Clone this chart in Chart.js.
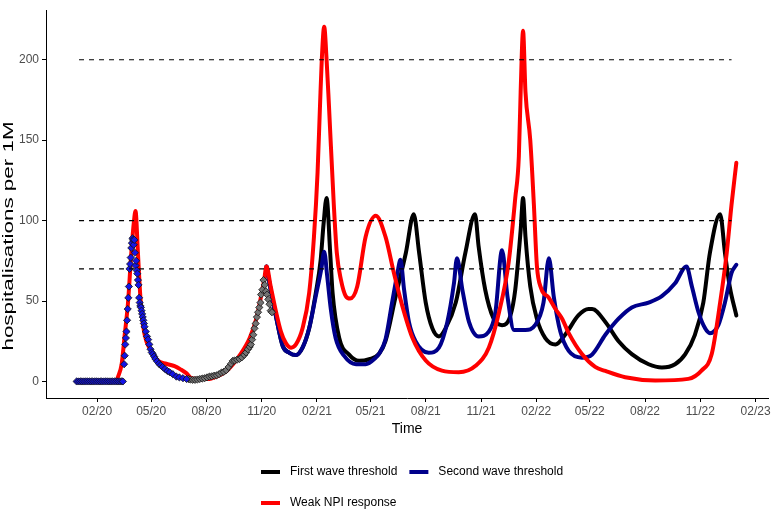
<!DOCTYPE html>
<html>
<head>
<meta charset="utf-8">
<script src="https://cdn.jsdelivr.net/npm/chart.js@4.4.1/dist/chart.umd.min.js"></script>
<style>
html, body { margin: 0; padding: 0; background: #fff; }
</style>
</head>
<body>
<canvas id="chart" width="773" height="510"></canvas>
<script>
// x values are days since 1 Jan 2020

const TICK_LABELS = ["02/20","05/20","08/20","11/20","02/21","05/21","08/21","11/21","02/22","05/22","08/22","11/22","02/23"];
const Y_TICKS = [0, 50, 100, 150, 200];
const THRESHOLDS = [70, 100, 200];
const THRESHOLD_SPAN = [1, 1087];

// observed hospitalisations, first wave (blue) and second wave (grey)
const FIRST_WAVE_DATA = [
  [-3,0],[0,0],[3,0],[6,0],[9,0],[12,0],[15,0],[18,0],[21,0],[24,0],[27,0],[30,0],[33,0],
  [36,0],[39,0],[42,0],[45,0],[48,0],[51,0],[54,0],[57,0],[60,0],[63,0],[66,0],[69,0],[72,0],[74,0],
  [76,10.7],[77,16],[78,23],[79,27],[80,31],[81,38],[82,45],[83,52],[84,59],[85,70],[86,73],
  [87,77],[88,83],[89,86],[90,89],[91,88],[92,85],[93,88],[94,80],[95,72],[96,75],[97,69],
  [98,67],[99,63],[100,60],[101,52],[102,49],[103,47],[104,46],[105,44],[106,42],[107,40],
  [108,38],[109,36],[110,34],[112,31],[114,28],[116,26],[118,23],[120,20],[122,18],[124,17],
  [126,15.5],[128,14],[131,12.5],[134,11],[137,10],[140,9],[144,7.7],[148,6.5],[152,5.7],
  [157,4.5],[163,3],[168,2.5],[174,2],[180,1.5]
];
const SECOND_WAVE_DATA = [
  [183,1.5],[186,1.2],[190,1],[194,1],[198,1.2],[202,1.5],[206,1.8],[210,2],[214,2.5],[218,3],
  [222,3.2],[226,3.6],[230,3.8],[234,4.5],[238,5.5],[242,6],[246,7],[250,9],[254,11],[257,12.8],
  [260,13],[264,13.5],[268,14],[272,15],[276,16.5],[279,18],[282,20],[285,21.5],[287,23],
  [289,26],[291,29],[293,33],[295,36],[297,40],[299,43],[301,46],[303,49],[304,54],[306,57],
  [308,63],[310,60],[312,56],[314,54],[316,51],[318,48],[320,44],[322,43]
];

// model runs
const WEAK_NPI = [
  [-3,0],[62,0],[66,3],[72,11],[77,29],[82.5,49],[88,80],[92.5,100],[95,106],[99,80],[103,53],
  [107.5,35],[113,25],[118,21],[124,17],[132,13],[146,11],[160,9.5],[170,7.5],[180,5],[188,2],
  [200,1.5],[215,1.5],[230,3],[245,6],[258,11],[268,16],[285,27],[296,39],[304,53],[309,63],
  [313,71.5],[320,59],[329,43],[337,31],[345,24],[354,21],[362,23],[373,33],[384,55],[392,90],
  [398,130],[402,171],[405,200],[409,220.5],[413,200],[417,171],[425,110],[430,80],[437,63],
  [445,53],[452,51.5],[464,59],[478,90],[495,103],[511,90],[525,67.5],[539,47],[556,27],
  [578,13],[605,6.7],[633,5.7],[661,9.7],[683,21],[700,43],[716,74],[727,114],[733,140],
  [736,180],[740,218],[744,180],[752,150],[758,110],[763,72],[770,58],[783,52],[794,45],
  [805,39],[816,30],[838,17],[860,9],[877,6.5],[910,2.6],[960,0.6],[1015,1.6],[1037,6.7],
  [1054,17],[1068,49],[1079,80],[1087,110],[1095,136]
];
const SECOND_THRESHOLD = [
  [313,71.5],[320,57],[329,40],[340,22],[351,17.8],[362,16.4],[373,21],[384,33],[395,53],
  [404,69.5],[409,80.7],[414,65.5],[420,45],[428,27],[442,16],[462,10.7],[478,10.7],[495,14.8],
  [500,17],[511,26],[522,49],[531,67.5],[536,75.6],[542,57],[550,37],[561,25],[583,17.8],
  [600,21],[614,37],[625,61],[630,76.6],[639,57],[650,37],[666,28],[683,31],[694,43],[705,81.6],
  [714,53],[725,32],[733,32],[744,32],[760,35],[774,49],[783,76.6],[791,53],[802,31],[816,19],
  [838,14.8],[855,16.8],[877,29],[899,39],[921,46],[949,49],[971,53],[993,61],[1012,71.5],
  [1021,59],[1032,43],[1043,33],[1051,30],[1065,35],[1076,49],[1087,67.5],[1095,72.5]
];
const FIRST_THRESHOLD = [
  [313,71.5],[320,57],[329,40],[340,22],[351,17.8],[362,16.4],[373,21],[384,33],[395,55],
  [403,75],[408,98],[413,114],[419,80],[423,55],[434,27],[450,16.8],[467,12.8],[484,13.8],
  [500,17],[511,25],[528,53],[545,80],[558,104],[567,80],[578,49],[589,33],[600,28],[611,33],
  [628,49],[644,80],[660,104],[666,84],[677,57],[691,39],[705,35],[719,41],[727,57],[736,94],
  [740,114],[744,90],[752,59],[763,39],[777,27],[794,23],[810,29],[832,41],[849,45],[855,45],
  [877,37],[899,25],[921,17],[949,10.7],[971,8.7],[993,10.7],[1010,17],[1026,29],[1040,49],
  [1051,80],[1068,104],[1076,80],[1084,59],[1095,41]
];

const DAY = 86400000;
const ORIGIN = Date.UTC(2020, 0, 1);
const TICK_DAYS = TICK_LABELS.map(function (l) {
  const mm = parseInt(l.slice(0, 2)), yy = 2000 + parseInt(l.slice(3));
  return Math.round((Date.UTC(yy, mm - 1, 1) - ORIGIN) / DAY);
});

const toXY = arr => arr.map(p => ({ x: p[0], y: p[1] }));

const FONT = "'Liberation Sans', Arial, sans-serif";
Chart.defaults.font.family = FONT;

function modelLine(label, rows, color) {
  return {
    label: label, data: toXY(rows), borderColor: color, backgroundColor: color,
    borderWidth: 4, pointRadius: 0, cubicInterpolationMode: "monotone",
    borderJoinStyle: "round", borderCapStyle: "round"
  };
}
function dataPoints(label, rows, fill) {
  return {
    label: label, data: toXY(rows), showLine: false, pointStyle: "rectRot",
    pointRadius: 3.6, backgroundColor: fill, borderColor: "#111", borderWidth: 0.8
  };
}

// first dataset is drawn on top
const datasets = THRESHOLDS.map(t => ({
  label: "threshold " + t,
  data: [{ x: THRESHOLD_SPAN[0], y: t }, { x: THRESHOLD_SPAN[1], y: t }],
  borderColor: "#000", borderWidth: 1.2, borderDash: [5, 5], pointRadius: 0
}));
datasets.push(dataPoints("First wave data", FIRST_WAVE_DATA, "#1414e6"));
datasets.push(dataPoints("Second wave data", SECOND_WAVE_DATA, "#737373"));
datasets.push(modelLine("Weak NPI response", WEAK_NPI, "#ff0000"));
datasets.push(modelLine("Second wave threshold", SECOND_THRESHOLD, "#00008b"));
datasets.push(modelLine("First wave threshold", FIRST_THRESHOLD, "#000000"));

const LEGEND_ROWS = [
  [["First wave threshold", "#000000"], ["Second wave threshold", "#00008b"]],
  [["Weak NPI response", "#ff0000"]]
];

const extras = {
  id: "extras",
  afterDraw(chart) {
    const ctx = chart.ctx;
    // y axis title (stretched like the original)
    ctx.save();
    ctx.translate(9, 236);
    ctx.rotate(-Math.PI / 2);
    ctx.scale(1.6, 1);
    ctx.font = "14px " + FONT;
    ctx.fillStyle = "#000";
    ctx.textAlign = "center";
    ctx.textBaseline = "middle";
    ctx.fillText("hospitalisations per 1M", 0, 0);
    ctx.restore();

    // legend
    ctx.save();
    ctx.font = "12px " + FONT;
    ctx.textBaseline = "middle";
    ctx.textAlign = "left";
    const rowY = [472, 503];
    LEGEND_ROWS.forEach(function (row, r) {
      let x = 261;
      row.forEach(function (item) {
        ctx.strokeStyle = item[1];
        ctx.lineWidth = 4;
        ctx.beginPath();
        ctx.moveTo(x, rowY[r]);
        ctx.lineTo(x + 19, rowY[r]);
        ctx.stroke();
        ctx.fillStyle = "#000";
        ctx.fillText(item[0], x + 29, rowY[r]);
        x += 29 + ctx.measureText(item[0]).width + 12;
      });
    });
    ctx.restore();
  }
};

new Chart(document.getElementById("chart"), {
  type: "line",
  data: { datasets: datasets },
  options: {
    responsive: false,
    animation: false,
    layout: { padding: { left: 0, right: 3, top: 1, bottom: 67 } },
    plugins: { legend: { display: false }, tooltip: { enabled: false } },
    scales: {
      x: {
        type: "linear", min: -54, max: 1148,
        afterBuildTicks: s => { s.ticks = TICK_DAYS.map(v => ({ value: v })); },
        afterFit: s => { s.height = 45; },
        ticks: {
          autoSkip: false, maxRotation: 0, padding: 2, color: "#4d4d4d",
          font: { size: 12 },
          callback: v => TICK_LABELS[TICK_DAYS.indexOf(v)]
        },
        grid: { display: true, drawOnChartArea: false, drawTicks: true, tickLength: 4, color: "#000" },
        border: { display: true, color: "#000", width: 1 },
        title: { display: true, text: "Time", color: "#000", font: { size: 14 }, padding: { top: 0, bottom: 5 } }
      },
      y: {
        type: "linear", min: -10.3, max: 230.8,
        afterBuildTicks: s => { s.ticks = Y_TICKS.map(v => ({ value: v })); },
        afterFit: s => { s.width = 46; },
        ticks: { padding: 3, color: "#4d4d4d", font: { size: 12 } },
        grid: { display: true, drawOnChartArea: false, drawTicks: true, tickLength: 4, color: "#000" },
        border: { display: true, color: "#000", width: 1 }
      }
    }
  },
  plugins: [extras]
});
</script>
</body>
</html>
